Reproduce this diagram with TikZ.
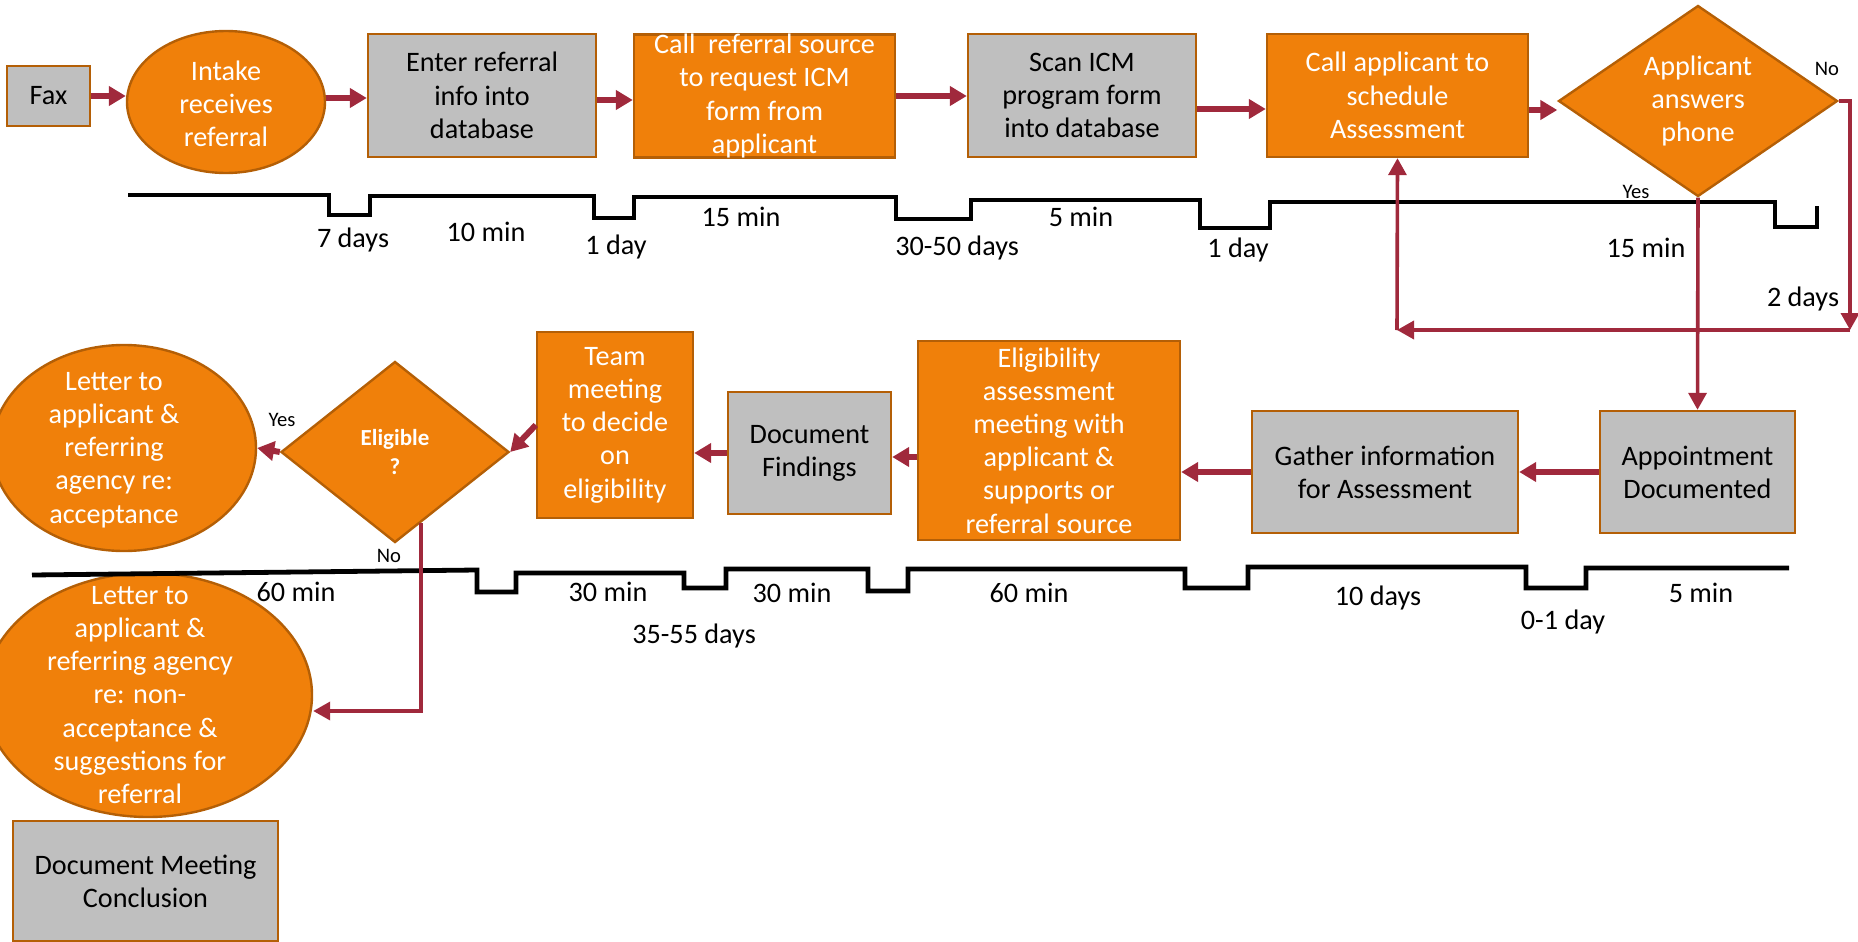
\documentclass[tikz,border=0pt]{standalone}
\usepackage{fontspec}
\setmainfont{Carlito}
\usetikzlibrary{arrows.meta,shapes.geometric}
\definecolor{orng}{HTML}{F0800A}
\definecolor{bord}{HTML}{B45F06}
\definecolor{gry}{HTML}{BFBFBF}
\definecolor{arrred}{HTML}{A0293C}
\tikzset{
 base/.style={draw=bord, line width=1.2pt, align=center, font=\fontsize{14.1}{16.6}\selectfont, inner sep=0pt},
 obox/.style={base, rectangle, fill=orng, text=white},
 gbox/.style={base, rectangle, fill=gry, text=black},
 oell/.style={base, ellipse, fill=orng},
 odia/.style={base, diamond, fill=orng, text=white},
 wtxt/.style={align=center, font=\fontsize{14.1}{16.6}\selectfont, inner sep=0pt, text=white},
 arr/.style={draw=arrred, line width=3pt, -{Triangle[length=8.5pt,width=9.5pt]}},
 tarr/.style={draw=arrred, line width=1.8pt, -{Triangle[length=8.5pt,width=9pt]}},
 tline/.style={draw=black, line width=2.4pt},
 lbl/.style={font=\fontsize{14.1}{16.6}\selectfont, inner sep=0pt},
 slbl/.style={font=\fontsize{10.3}{12}\selectfont, inner sep=0pt},
}
\begin{document}
\begin{tikzpicture}[x=0.5pt,y=-0.5pt]
\useasboundingbox (0,0) rectangle (1858,942);

% top row
\node[gbox, minimum width=41.5pt, minimum height=30pt] (fax) at (48.5,96) {Fax};
\node[oell, minimum width=99pt, minimum height=71pt,
      label={[wtxt, yshift=-1pt]center:Intake\\receives\\referral}] (intake) at (226,102) {};
\node[gbox, minimum width=114pt, minimum height=61.5pt] (enter) at (482,95.5) {Enter referral\\info into\\database};
\node[obox, minimum width=130.5pt, minimum height=61.5pt, inner ysep=-3pt] (callref) at (764.5,96) {Call~~referral source\\to request ICM\\form from\\applicant};
\node[gbox, minimum width=114pt, minimum height=61.5pt] (scan) at (1082,95.5) {Scan ICM\\program form\\into database};
\node[obox, minimum width=130.5pt, minimum height=61.5pt] (callapp) at (1397.5,95.5) {Call applicant to\\schedule\\Assessment};
\node[odia, shape aspect=1.46, minimum width=139.5pt, minimum height=95.5pt] (answers) at (1698,101) {Applicant\\answers\\phone};

% bottom row
\node[gbox, minimum width=97.5pt, minimum height=61pt] (appt) at (1697.5,472) {Appointment\\Documented};
\node[gbox, minimum width=133pt, minimum height=61pt] (gather) at (1385,472) {Gather information\\for Assessment};
\node[obox, minimum width=131pt, minimum height=99.5pt, inner ysep=-1pt] (eligassess) at (1049,440.5) {Eligibility\\assessment\\meeting with\\applicant \&\\supports or\\referral source};
\node[gbox, minimum width=81.5pt, minimum height=61pt] (docfind) at (809.5,453) {Document\\Findings};
\node[obox, minimum width=78pt, minimum height=93pt] (team) at (615,425) {Team\\meeting\\to decide\\on\\eligibility};
\node[odia, minimum width=114pt, minimum height=90.5pt, font=\fontsize{11.5}{14.5}\selectfont\bfseries] (elig) at (395,452) {Eligible\\?};
\node[oell, minimum width=132pt, minimum height=103pt,
      label={[wtxt, xshift=-5pt, yshift=-1pt]center:Letter to\\applicant \&\\referring\\agency re:\\acceptance}] (accept) at (124,448) {};
\node[oell, minimum width=164pt, minimum height=122pt,
      label={[wtxt, xshift=-4pt]center:Letter to\\applicant \&\\referring agency\\re: non-\\acceptance \&\\suggestions for\\referral}] (nonaccept) at (148,695) {};
\node[gbox, minimum width=132.5pt, minimum height=60pt] (docmeet) at (145.5,881) {Document Meeting\\Conclusion};

% timelines
\draw[tline] (128,195) -- (329,195) -- (329,215) -- (370,215) -- (370,196) -- (594,196) -- (594,218) -- (634,218) -- (634,197) -- (896,197) -- (896,219) -- (971,219) -- (971,200) -- (1200,200) -- (1200,228) -- (1270,228) -- (1270,202) -- (1775,202) -- (1775,227) -- (1817,227) -- (1817,206);
\draw[tline] (32,575) -- (477,570) -- (477,592) -- (516,592) -- (516,573) -- (684,573) -- (684,588) -- (726,588) -- (726,569) -- (868,569) -- (868,591) -- (908,591) -- (908,569) -- (1185,569) -- (1185,588) -- (1248,588) -- (1248,567) -- (1526,567) -- (1526,588) -- (1586,588) -- (1586,568) -- (1789,568);

% timeline labels
\node[lbl] (l1) at (353,240) {7 days};
\node[lbl] (l2) at (486,232) {10 min};
\node[lbl] (l3) at (616,247) {1 day};
\node[lbl] (l4) at (741,217) {15 min};
\node[lbl] (l5) at (957,248) {30-50 days};
\node[lbl] (l6) at (1081,217) {5 min};
\node[lbl] (l7) at (1238,250) {1 day};
\node[lbl] (l8) at (1646,248) {15 min};
\node[lbl] (l9) at (1803,299) {2 days};
\node[lbl] (b1) at (296,592) {60 min};
\node[lbl] (b2) at (608,592) {30 min};
\node[lbl] (b3) at (694,636) {35-55 days};
\node[lbl] (b4) at (792,593) {30 min};
\node[lbl] (b5) at (1029,593) {60 min};
\node[lbl] (b6) at (1378,598) {10 days};
\node[lbl] (b7) at (1563,622) {0-1 day};
\node[lbl] (b8) at (1701,593) {5 min};
\node[slbl] (yes1) at (1636,192) {Yes};
\node[slbl] (no1) at (1827,69) {No};
\node[slbl] (yes2) at (282,420) {Yes};
\node[slbl] (no2) at (389,556) {No};

% connectors top
\draw[arr] (fax.east) -- (fax.east -| intake.west);
\draw[arr] ([yshift=2pt]intake.east) -- ([yshift=2pt]intake.east -| enter.west);
\draw[arr] ([yshift=-2.25pt]enter.east) -- ([yshift=-2.25pt]enter.east -| callref.west);
\draw[arr] (callref.east) -- (callref.east -| scan.west);
\draw[arr] ([yshift=-6.75pt]scan.east) -- ([yshift=-6.75pt]scan.east -| callapp.west);
\draw[arr] ([yshift=-7.25pt]callapp.east) -- ([yshift=-7.25pt]callapp.east -| answers.west);

% No loop
\coordinate (nc) at (1850,330);
\coordinate (lc) at (1397,330);
\draw[tarr] (answers.east) -- (answers.east -| nc) -- (nc);
\draw[tarr] (nc) -- (lc);
\draw[tarr] (lc) -- (callapp.south);

% Yes down
\draw[tarr] (answers.south) -- (appt.north);

% bottom connectors
\draw[arr] (appt.west) -- (gather.east);
\draw[arr] (gather.west) -- (gather.west -| eligassess.east);
\draw[arr] ([yshift=-8.25pt]eligassess.west) -- ([yshift=-8.25pt]eligassess.west -| docfind.east);
\draw[arr] (docfind.west) -- (docfind.west -| team.east);
\draw[arr] (team.west) -- (elig.east);
\draw[arr] (elig.west) -- (accept.east);
\coordinate (nb) at (421,711);
\draw[tarr] (elig.-70) -- (elig.-70 |- nb) -- (nonaccept.east |- nb);
\end{tikzpicture}
\end{document}
